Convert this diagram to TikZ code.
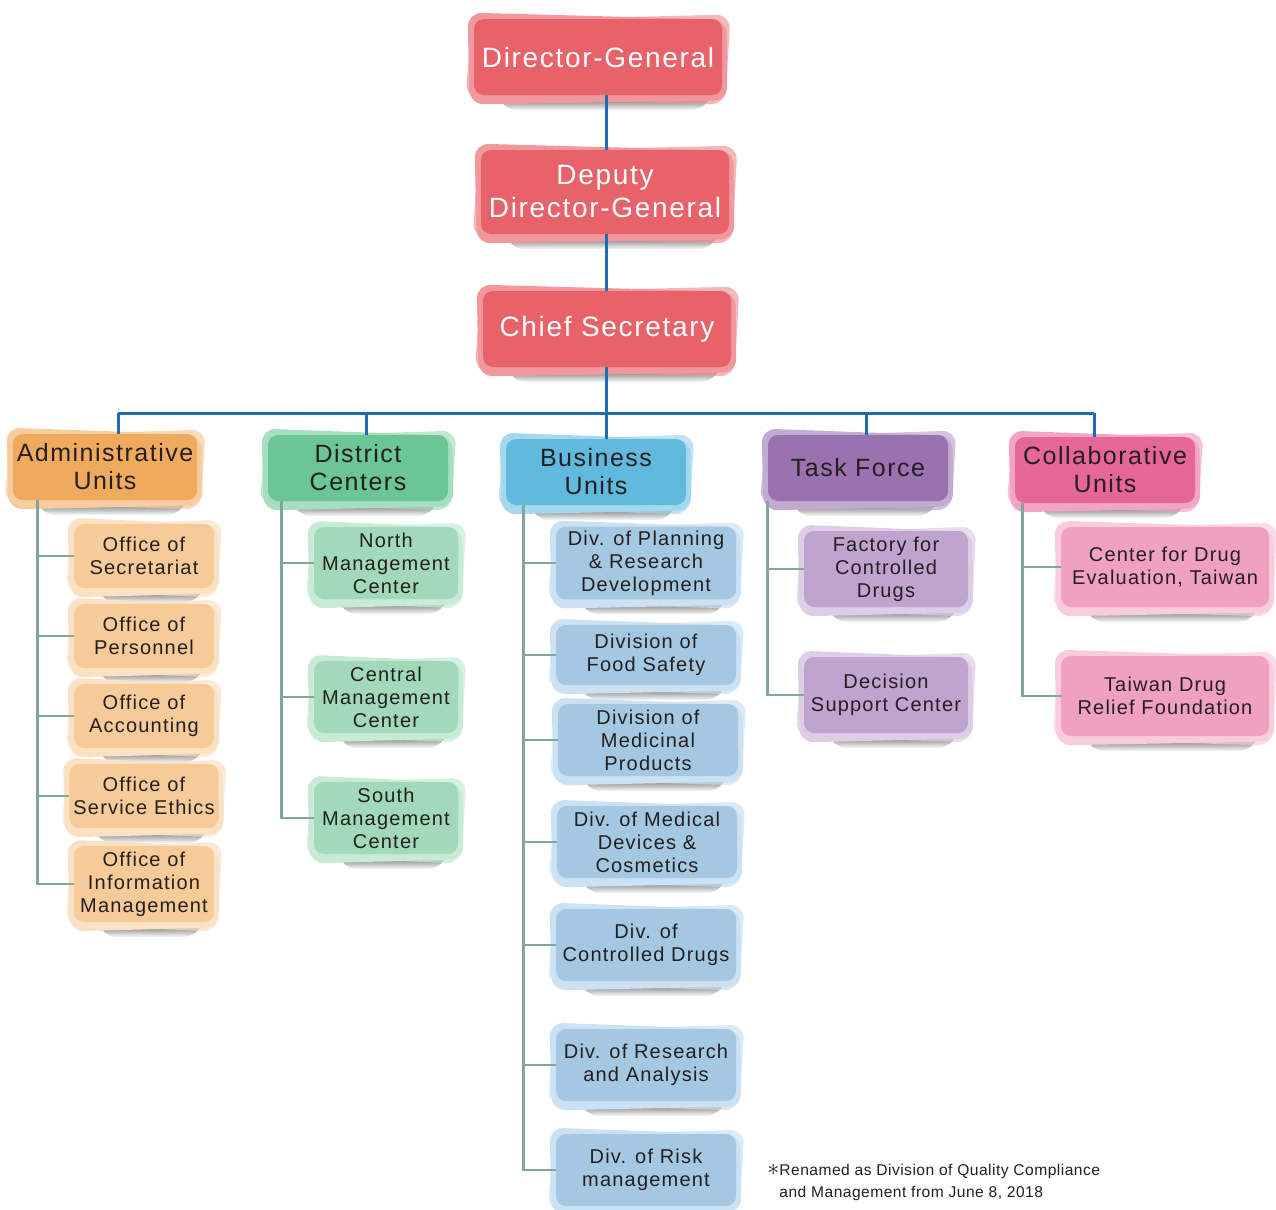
\documentclass[tikz,border=0pt]{standalone}
\usepackage{fontspec}
\setmainfont{Liberation Sans}[LetterSpace=6]
\usetikzlibrary{positioning, calc, backgrounds}

\definecolor{topred}{RGB}{232,98,106}
\definecolor{topredlt}{RGB}{240,152,158}
\definecolor{admorange}{RGB}{240,170,94}
\definecolor{admorangelt}{RGB}{247,204,158}
\definecolor{subpeach}{RGB}{247,203,151}
\definecolor{subpeachlt}{RGB}{251,225,196}
\definecolor{dstgreen}{RGB}{108,197,151}
\definecolor{dstgreenlt}{RGB}{165,222,192}
\definecolor{subgreen}{RGB}{162,217,185}
\definecolor{subgreenlt}{RGB}{200,235,214}
\definecolor{busblue}{RGB}{97,185,222}
\definecolor{busbluelt}{RGB}{165,215,238}
\definecolor{subblue}{RGB}{165,200,226}
\definecolor{subbluelt}{RGB}{204,225,241}
\definecolor{tskpurple}{RGB}{154,114,176}
\definecolor{tskpurplelt}{RGB}{194,170,208}
\definecolor{subpurple}{RGB}{192,163,206}
\definecolor{subpurplelt}{RGB}{222,205,230}
\definecolor{colpink}{RGB}{230,103,151}
\definecolor{colpinklt}{RGB}{242,165,195}
\definecolor{subpink}{RGB}{240,161,192}
\definecolor{subpinklt}{RGB}{248,204,221}
\definecolor{trunkblue}{RGB}{31,109,176}
\definecolor{branchgreen}{RGB}{128,168,152}
\definecolor{inkdark}{RGB}{35,31,32}

\tikzset{
  box/.style={rounded corners=5pt, align=center, inner sep=2pt},
  topbox/.style={box, fill=topred, text=white, font=\fontsize{14}{16.5}\selectfont,
    minimum width=124pt, minimum height=38pt},
  hdrbox/.style={box, text=inkdark, font=\fontsize{12.5}{14}\selectfont,
    minimum width=90pt, minimum height=33pt},
  subbox/.style={box, text=inkdark, font=\fontsize{10}{11.5}\selectfont},
  admsub/.style={subbox, fill=subpeach, minimum width=70pt, minimum height=32pt},
  dstsub/.style={subbox, fill=subgreen, minimum width=72pt, minimum height=36pt},
  bussub/.style={subbox, fill=subblue, minimum width=90pt, minimum height=36pt},
  tsksub/.style={subbox, fill=subpurple, minimum width=82pt, minimum height=38pt},
  colsub/.style={subbox, fill=subpink, minimum width=104pt, minimum height=40pt},
  trunk/.style={draw=trunkblue, line width=1.5pt},
  branch/.style={draw=branchgreen, line width=1.2pt},
}

\begin{document}
\begin{tikzpicture}[x=0.5pt, y=-0.5pt]
  \useasboundingbox (0,0) rectangle (1276,1210);

  % ===== Top management =====
  \node[topbox] (dg) at (598,57) {Director-General};
  \node[topbox, minimum height=42pt] (ddg) at (605,192) {Deputy\\Director-General};
  \node[topbox] (cs) at (607,329) {Chief Secretary};

  % ===== Unit headers =====
  \node[hdrbox, fill=admorange] (adm) at (105,467) {Administrative\\Units};
  \node[hdrbox, fill=dstgreen] (dst) at (358,468) {District\\Centers};
  \node[hdrbox, fill=busblue] (bus) at (596,472) {Business\\Units};
  \node[hdrbox, fill=tskpurple] (tsk) at (858,468) {Task Force};
  \node[hdrbox, fill=colpink] (col) at (1105,470) {Collaborative\\Units};

  % Administrative units
  \node[admsub] (a1) at (144,556) {Office of\\Secretariat};
  \node[admsub] (a2) at (144,636) {Office of\\Personnel};
  \node[admsub] (a3) at (144,716) {Office of\\Accounting};
  \node[admsub] (a4) at (144,796) {Office of\\Service Ethics};
  \node[admsub, minimum height=38pt] (a5) at (144,884) {Office of\\Information\\Management};

  % District centers
  \node[dstsub] (d1) at (386,563) {North\\Management\\Center};
  \node[dstsub] (d2) at (386,697) {Central\\Management\\Center};
  \node[dstsub] (d3) at (386,818) {South\\Management\\Center};

  % Business units
  \node[bussub] (b1) at (646,563) {Div. of Planning\\\& Research\\Development};
  \node[bussub, minimum height=30pt] (b2) at (646,655) {Division of\\Food Safety};
  \node[bussub] (b3) at (648,740) {Division of\\Medicinal\\Products};
  \node[bussub] (b4) at (647,842) {Div. of Medical\\Devices \&\\Cosmetics};
  \node[bussub] (b5) at (646,945) {Div. of\\Controlled Drugs};
  \node[bussub] (b6) at (646,1065) {Div. of Research\\and Analysis};
  \node[bussub] (b7) at (646,1170) {Div. of Risk\\management};

  % Task force
  \node[tsksub] (t1) at (886,569) {Factory for\\Controlled\\Drugs};
  \node[tsksub] (t2) at (886,695) {Decision\\Support Center};

  % Collaborative units
  \node[colsub] (c1) at (1165,567) {Center for Drug\\Evaluation, Taiwan};
  \node[colsub] (c2) at (1165,696) {Taiwan Drug\\Relief Foundation};

  % Footnote
  \node[anchor=north west, align=left, inner sep=0pt, text=inkdark,
    font=\fontsize{7.8}{11}\selectfont\addfontfeatures{LetterSpace=3}]
    (note) at (779,1164) {\llap{\large$\ast$}Renamed as Division of Quality Compliance\\and Management from June 8, 2018};

  % ===== Hand-drawn look: shadow and light layers =====
  \begin{scope}[on background layer]
    \foreach \n/\lt in {dg/topredlt, ddg/topredlt, cs/topredlt,
        adm/admorangelt, dst/dstgreenlt, bus/busbluelt, tsk/tskpurplelt, col/colpinklt,
        a1/subpeachlt, a2/subpeachlt, a3/subpeachlt, a4/subpeachlt, a5/subpeachlt,
        d1/subgreenlt, d2/subgreenlt, d3/subgreenlt,
        b1/subbluelt, b2/subbluelt, b3/subbluelt, b4/subbluelt, b5/subbluelt, b6/subbluelt, b7/subbluelt,
        t1/subpurplelt, t2/subpurplelt, c1/subpinklt, c2/subpinklt} {
      \shade[top color=black!75, bottom color=white, rounded corners=5pt]
        ($(\n.south west)+(22,-2)$) -- ($(\n.south east)+(-8,-2)$) --
        ($(\n.south east)+(-22,15)$) -- ($(\n.south west)+(34,15)$) -- cycle;
      \fill[\lt, rounded corners=7pt]
        ($(\n.north west)+(-6,-6)$) -- ($(\n.north east)+(4,1)$) --
        ($(\n.south east)+(5,5)$) -- ($(\n.south west)+(-4,9)$) -- cycle;
      \fill[\lt, opacity=0.7, rounded corners=7pt]
        ($(\n.north west)+(-2,2)$) -- ($(\n.north east)+(8,-4)$) --
        ($(\n.south east)+(3,9)$) -- ($(\n.south west)+(-8,3)$) -- cycle;
    }
  \end{scope}

  % ===== Blue trunk =====
  \coordinate (hbar) at (606,413);
  \draw[trunk] (dg.south -| hbar) -- (ddg.north -| hbar);
  \draw[trunk] (ddg.south -| hbar) -- (cs.north -| hbar);
  \draw[trunk] (cs.south -| hbar) -- (hbar);
  \draw[trunk] ($(adm.north |- hbar)+(13,0)$) -- ($(col.north |- hbar)+(-11,0)$);
  \foreach \h/\dx in {adm/13, dst/8, bus/10, tsk/8, col/-11}
    \draw[trunk] ($(\h.north |- hbar)+(\dx,0)$) -- ($(\h.north)+(\dx,0)$);

  % ===== Green branches =====
  \foreach \s in {a1, a2, a3, a4, a5}
    \draw[branch] ($(adm.south west)+(25,0)$) |- (\s.west);
  \foreach \s in {d1, d2, d3}
    \draw[branch] ($(dst.south west)+(14,0)$) |- (\s.west);
  \foreach \s in {b1, b2, b3, b4, b5, b6, b7}
    \draw[branch] ($(bus.south west)+(18,0)$) |- (\s.west);
  \foreach \s in {t1, t2}
    \draw[branch] ($(tsk.south west)+(0,0)$) |- (\s.west);
  \foreach \s in {c1, c2}
    \draw[branch] ($(col.south west)+(8,0)$) |- (\s.west);
\end{tikzpicture}
\end{document}
